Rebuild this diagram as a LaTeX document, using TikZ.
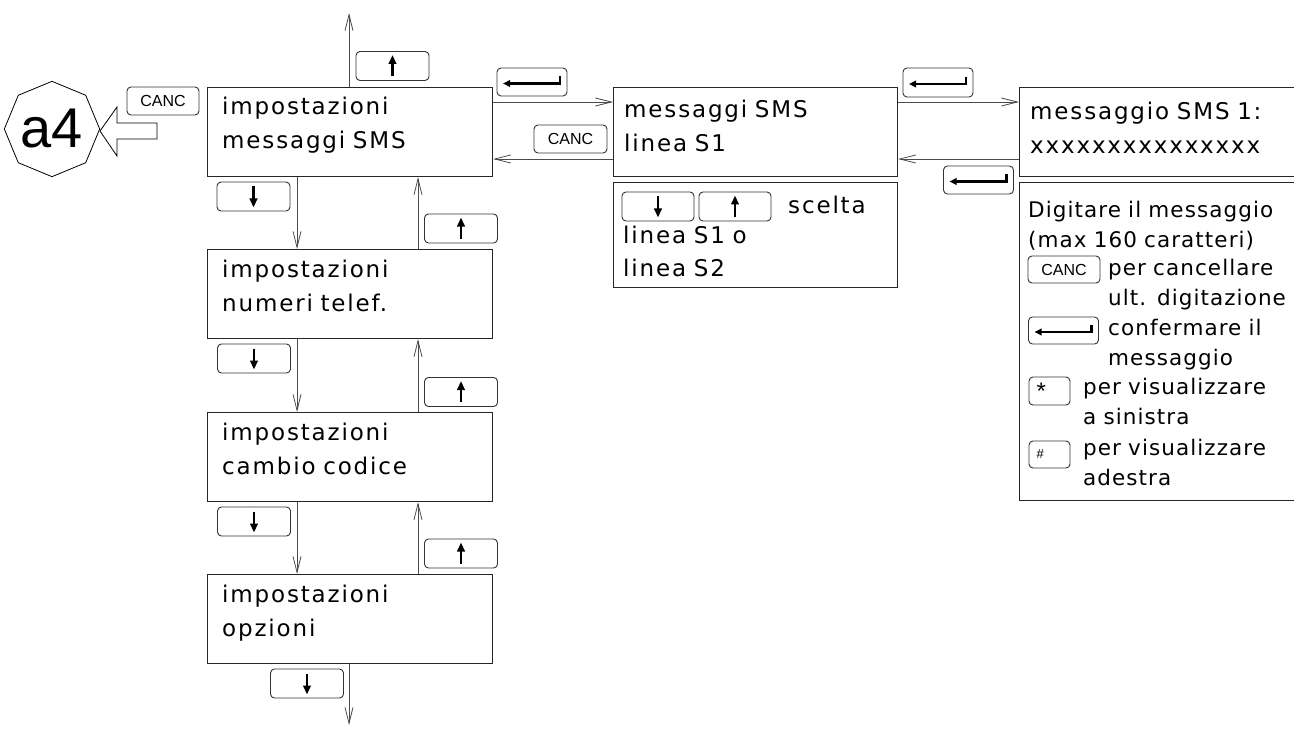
\documentclass[tikz,border=0pt]{standalone}
\usepackage{fontspec}
\setmainfont{DejaVu Sans}
\newfontfamily\lcdfont{DejaVu Sans}[LetterSpace=8,WordSpace=1.5]
\newfontfamily\notefont{DejaVu Sans}[LetterSpace=5,WordSpace=1.3]
\newfontfamily\keyfont{Liberation Sans}
\usetikzlibrary{arrows.meta,calc,shapes.geometric}
\tikzset{
 box/.style={draw=black!85, line width=1.1pt, anchor=north west, inner sep=0pt, minimum height=89pt},
 key/.style={draw=black!80, line width=0.9pt, rounded corners=4pt, minimum width=73pt, minimum height=29pt, inner sep=0pt, font=\keyfont\fontsize{16}{18}\selectfont},
 conn/.style={draw=black!70, line width=0.8pt, -{Straight Barb[length=16pt,width=8pt]}},
 glyph/.style={line width=2.6pt, -{Triangle[length=9pt,width=7.5pt]}},
 entglyph/.style={line width=2.2pt, -{Triangle[length=7pt,width=6.5pt]}},
 txt/.style={anchor=base west, inner sep=0pt, text width=300pt, align=left, font=\lcdfont\fontsize{23}{34}\selectfont},
 note/.style={anchor=base west, inner sep=0pt, text width=300pt, align=left, font=\notefont\fontsize{21.5}{30}\selectfont},
}
\newcommand\upglyph[1]{\draw[glyph] ($(#1.center)+(0,10)$) -- ($(#1.center)+(0,-11)$);}
\newcommand\dnglyph[1]{\draw[glyph] ($(#1.center)+(0,-10)$) -- ($(#1.center)+(0,11)$);}
\newcommand\entglyph[1]{\draw[entglyph] ($(#1.center)+(28,-5.5)$) -- ($(#1.center)+(28,1.5)$) -- ($(#1.center)+(-29,1.5)$);}
\begin{document}
\begin{tikzpicture}[x=1pt,y=-1pt]
\useasboundingbox (0,0) rectangle (1294,733);
% octagon and hollow arrow
\node[regular polygon, regular polygon sides=8, shape border rotate=22.5, draw, line width=0.8pt, minimum size=86pt, inner sep=0pt, font=\keyfont\fontsize{56}{60}\selectfont] (a4) at (52,129) {a4};
\draw[line width=0.8pt] (100,131) -- (117,107) -- (117,123) -- (157,123) -- (157,139) -- (117,139) -- (117,156) -- cycle;
\node[key, minimum width=72pt, minimum height=28pt] (kc0) at (163,101) {CANC};
% left column boxes
\node[box, minimum width=285pt] (b1) at (207,87) {};
\node[box, minimum width=285pt] (b2) at (207,249) {};
\node[box, minimum width=285pt] (b3) at (207,412) {};
\node[box, minimum width=285pt] (b4) at (207,574) {};
\node[txt] (t1) at ($(b1.north west)+(15,28)$) {impostazioni\\messaggi SMS};
\node[txt] (t2) at ($(b2.north west)+(15,28)$) {impostazioni\\numeri telef.};
\node[txt] (t3) at ($(b3.north west)+(15,28)$) {impostazioni\\cambio codice};
\node[txt] (t4) at ($(b4.north west)+(15,28)$) {impostazioni\\opzioni};
% vertical connectors
\coordinate (topend) at (349,13);
\coordinate (botend) at (349,725);
\draw[conn] ($(b1.north west)+(142,0)$) -- (topend);
\draw[conn] ($(b1.south west)+(90,0)$) -- ($(b2.north west)+(90,0)$);
\draw[conn] ($(b2.north west)+(211,0)$) -- ($(b1.south west)+(211,0)$);
\draw[conn] ($(b2.south west)+(90,0)$) -- ($(b3.north west)+(90,0)$);
\draw[conn] ($(b3.north west)+(211,0)$) -- ($(b2.south west)+(211,0)$);
\draw[conn] ($(b3.south west)+(90,0)$) -- ($(b4.north west)+(90,0)$);
\draw[conn] ($(b4.north west)+(211,0)$) -- ($(b3.south west)+(211,0)$);
\draw[conn] ($(b4.south west)+(142,0)$) -- (botend);
% keys of the left column
\node[key] (ku0) at (392.5,66) {}; \upglyph{ku0}
\node[key] (kd1) at (253.5,196.5) {}; \dnglyph{kd1}
\node[key] (ku1) at (461,228.5) {}; \upglyph{ku1}
\node[key] (kd2) at (254,358.5) {}; \dnglyph{kd2}
\node[key] (ku2) at (461,392) {}; \upglyph{ku2}
\node[key] (kd3) at (254,521.5) {}; \dnglyph{kd3}
\node[key] (ku3) at (461,553.5) {}; \upglyph{ku3}
\node[key] (kd4) at (307,683.5) {}; \dnglyph{kd4}
% middle boxes
\node[box, minimum width=284pt] (m) at (613,87) {};
\node[box, minimum width=284pt, minimum height=105pt] (m2) at (613,182) {};
\node[txt] (tm) at ($(m.north west)+(11,31)$) {messaggi SMS\\linea S1};
\draw[conn] ($(b1.north east)+(0,15)$) -- ($(m.north west)+(0,15)$);
\draw[conn] ($(m.north west)+(0,72)$) -- ($(b1.north east)+(0,72)$);
\node[key, minimum width=70pt, minimum height=28pt] (ke1) at (532,82) {}; \entglyph{ke1}
\node[key, minimum width=73pt, minimum height=28pt] (kc1) at (570.5,139) {CANC};
\node[key, minimum width=72pt] (kds) at (658,206.5) {}; \dnglyph{kds}
\node[key, minimum width=72pt] (kus) at (735,206.5) {}; \upglyph{kus}
\node[txt, text width=100pt] (tsc) at (788,213) {scelta};
\node[txt] (tms) at (623,243) {linea S1 o\\linea S2};
% right boxes
\node[box, minimum width=290pt] (r) at (1019,87) {};
\node[box, minimum width=290pt, minimum height=318pt] (r2) at (1019,182) {};
\node[txt] (tr) at ($(r.north west)+(11,33)$) {messaggio SMS 1:\\xxxxxxxxxxxxxxx};
\draw[conn] ($(m.north east)+(0,15)$) -- ($(r.north west)+(0,15)$);
\draw[conn] ($(r.north west)+(0,72)$) -- ($(m.north east)+(0,72)$);
\node[key, minimum width=70pt] (ke2) at (938,82.5) {}; \entglyph{ke2}
\node[key, minimum width=70pt, minimum height=28pt] (ke3) at (978.5,180) {}; \entglyph{ke3}
\node[note] (n1) at (1028,218) {Digitare il messaggio\\(max 160 caratteri)};
\node[key, minimum width=72pt, minimum height=27pt] (kc2) at (1064,269.5) {CANC};
\node[note] (n2) at (1108,275) {per cancellare\\ult. digitazione};
\node[key, minimum width=70pt, minimum height=27pt] (ke4) at (1063.5,330.5) {}; \entglyph{ke4}
\node[note] (n3) at (1108,335) {confermare il\\messaggio};
\node[key, minimum width=41pt, minimum height=28pt] (ks) at (1049.5,391) {\makebox[26pt][l]{\fontsize{24}{24}\selectfont *}};
\node[note] (n4) at (1083,394) {per visualizzare\\a sinistra};
\node[key, minimum width=41pt, minimum height=27pt] (kh) at (1049.5,454.5) {\makebox[26pt][l]{\fontsize{13}{13}\selectfont \#}};
\node[note] (n5) at (1083,455) {per visualizzare\\adestra};
\end{tikzpicture}
\end{document}
